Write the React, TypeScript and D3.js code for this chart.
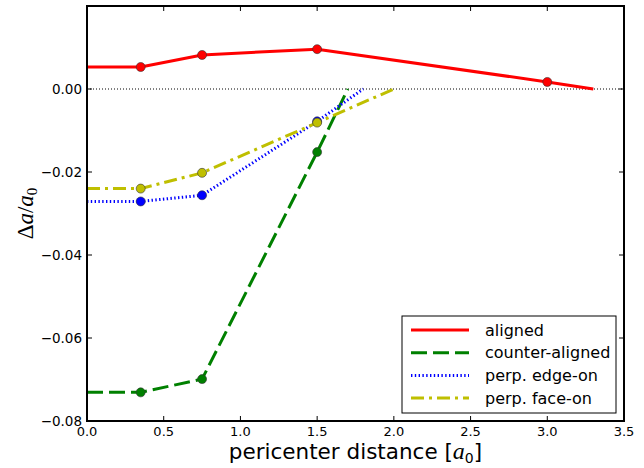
import React, { useRef, useEffect } from 'react';
import * as d3 from 'd3';

// Data (pericenter distance in a0, delta a / a0)
const alignedX = [0, 0.35, 0.75, 1.5, 3.0, 3.3];
const alignedY = [0.0053, 0.0053, 0.0082, 0.0096, 0.0017, 0.0];
const counterX = [0, 0.35, 0.75, 1.5, 1.7];
const counterY = [-0.0731, -0.0731, -0.0699, -0.0152, 0.0];
const edgeX = [0, 0.35, 0.75, 1.5, 1.8];
const edgeY = [-0.0271, -0.0271, -0.0256, -0.0078, 0.0];
const faceX = [0, 0.35, 0.75, 1.5, 2.0];
const faceY = [-0.024, -0.024, -0.0202, -0.0081, 0.0];
// indices carrying a marker (the end points are extrapolations)
const markedAligned = [1, 2, 3, 4];
const markedOther = [1, 2, 3];

const xTicks = [0, 0.5, 1.0, 1.5, 2.0, 2.5, 3.0, 3.5];
const yTicks = [-0.08, -0.06, -0.04, -0.02, 0.0];

const series = [
  { name: 'aligned', xs: alignedX, ys: alignedY, marks: markedAligned, color: '#ff0000', dash: null, width: 3 },
  { name: 'counter-aligned', xs: counterX, ys: counterY, marks: markedOther, color: '#008000', dash: '16,6', width: 3 },
  { name: 'perp. edge-on', xs: edgeX, ys: edgeY, marks: markedOther, color: '#0000ff', dash: '1.4,2.4', width: 3 },
  { name: 'perp. face-on', xs: faceX, ys: faceY, marks: markedOther, color: '#bfbf00', dash: '13,5,3,5', width: 3 },
];

const App = () => {
  const svgRef = useRef<SVGSVGElement | null>(null);

  useEffect(() => {
    const width = 644;
    const height = 468;
    const margin = { top: 6, right: 20, bottom: 47, left: 87 };
    const font = 'DejaVu Sans, sans-serif';

    const x = d3.scaleLinear().domain([0, 3.5]).range([margin.left, width - margin.right]);
    const y = d3.scaleLinear().domain([-0.08, 0.02]).range([height - margin.bottom, margin.top]);

    const svg = d3.select(svgRef.current).attr('width', width).attr('height', height);
    svg.selectAll('*').remove();

    svg.append('rect').attr('width', width).attr('height', height).attr('fill', '#fff');

    // zero line
    svg.append('line')
      .attr('x1', x(0)).attr('x2', x(3.5))
      .attr('y1', y(0)).attr('y2', y(0))
      .attr('stroke', '#000').attr('stroke-width', 1).attr('stroke-dasharray', '1,2');

    const line = d3.line<[number, number]>().x(d => x(d[0])).y(d => y(d[1]));

    series.forEach(s => {
      const pts = s.xs.map((v, i) => [v, s.ys[i]] as [number, number]);
      svg.append('path')
        .attr('d', line(pts))
        .attr('fill', 'none')
        .attr('stroke', s.color)
        .attr('stroke-width', s.width)
        .attr('stroke-dasharray', s.dash)
        .attr('stroke-linejoin', 'round');
    });
    series.forEach(s => {
      svg.append('g').selectAll('circle')
        .data(s.marks)
        .enter()
        .append('circle')
        .attr('cx', i => x(s.xs[i]))
        .attr('cy', i => y(s.ys[i]))
        .attr('r', 4.5)
        .attr('fill', s.color)
        .attr('stroke', '#333')
        .attr('stroke-width', 0.6);
    });

    // frame
    svg.append('rect')
      .attr('x', x(0)).attr('y', y(0.02))
      .attr('width', x(3.5) - x(0)).attr('height', y(-0.08) - y(0.02))
      .attr('fill', 'none').attr('stroke', '#000').attr('stroke-width', 2);

    // ticks (inward, all four sides)
    const tl = 5;
    const tg = svg.append('g').attr('stroke', '#000').attr('stroke-width', 1);
    xTicks.forEach(t => {
      tg.append('line').attr('x1', x(t)).attr('x2', x(t)).attr('y1', y(-0.08)).attr('y2', y(-0.08) - tl);
      tg.append('line').attr('x1', x(t)).attr('x2', x(t)).attr('y1', y(0.02)).attr('y2', y(0.02) + tl);
    });
    yTicks.concat([0.02]).forEach(t => {
      tg.append('line').attr('x1', x(0)).attr('x2', x(0) + tl).attr('y1', y(t)).attr('y2', y(t));
      tg.append('line').attr('x1', x(3.5)).attr('x2', x(3.5) - tl).attr('y1', y(t)).attr('y2', y(t));
    });

    svg.append('g').selectAll('text')
      .data(xTicks)
      .enter()
      .append('text')
      .attr('x', d => x(d))
      .attr('y', y(-0.08) + 15)
      .attr('text-anchor', 'middle')
      .attr('font-family', font)
      .attr('font-size', 13)
      .text(d => d3.format('.1f')(d));

    svg.append('g').selectAll('text')
      .data(yTicks)
      .enter()
      .append('text')
      .attr('x', x(0) - 5)
      .attr('y', d => y(d) + 5)
      .attr('text-anchor', 'end')
      .attr('font-family', font)
      .attr('font-size', 13.5)
      .text(d => d3.format('.2f')(d));

    // x label
    const xl = svg.append('text')
      .attr('x', (x(0) + x(3.5)) / 2)
      .attr('y', height - 9)
      .attr('text-anchor', 'middle')
      .attr('font-family', font)
      .attr('font-size', 21.5);
    xl.append('tspan').text('pericenter distance [');
    xl.append('tspan').attr('font-family', 'Liberation Serif, serif').attr('font-style', 'italic').attr('font-size', 24).text('a');
    xl.append('tspan').attr('font-size', 14).attr('dy', 4).text('0');
    xl.append('tspan').attr('dy', -4).text(']');

    // y label
    const yl = svg.append('text')
      .attr('transform', `translate(33,${(y(0.02) + y(-0.08)) / 2}) rotate(-90)`)
      .attr('text-anchor', 'middle')
      .attr('font-family', 'Liberation Serif, serif')
      .attr('font-size', 23);
    yl.append('tspan').text('Δ');
    yl.append('tspan').attr('font-style', 'italic').text('a');
    yl.append('tspan').text('/');
    yl.append('tspan').attr('font-style', 'italic').text('a');
    yl.append('tspan').attr('font-size', 15).attr('dy', 4).text('0');

    // legend
    const lg = svg.append('g');
    lg.append('rect')
      .attr('x', 402).attr('y', 316).attr('width', 214).attr('height', 97)
      .attr('fill', '#fff').attr('stroke', '#000').attr('stroke-width', 1);
    series.forEach((s, i) => {
      const ly = 330 + i * 22.7;
      lg.append('line')
        .attr('x1', 411).attr('x2', 469).attr('y1', ly).attr('y2', ly)
        .attr('stroke', s.color).attr('stroke-width', s.width)
        .attr('stroke-dasharray', s.dash);
      lg.append('text')
        .attr('x', 485).attr('y', ly + 5.5)
        .attr('font-family', font).attr('font-size', 16)
        .text(s.name);
    });
  }, []);

  return (
    <div style={{ position: 'absolute', left: 0, top: 0, width: '644px', height: '468px' }}>
      <svg ref={svgRef}></svg>
    </div>
  );
};

export default App;
